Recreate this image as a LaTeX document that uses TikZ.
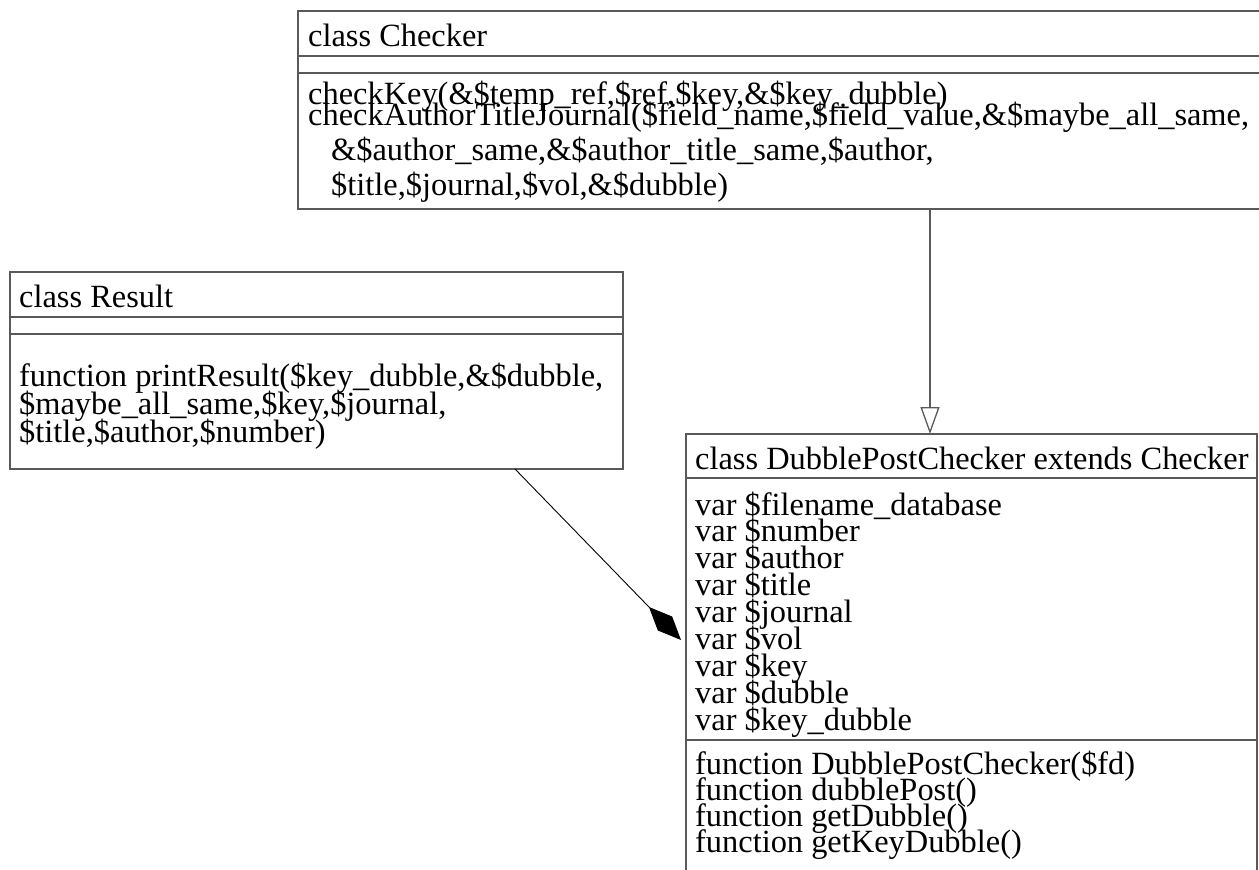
\documentclass[tikz,border=0pt]{standalone}
\usepackage{fontspec}
\setmainfont{Liberation Serif}
\usetikzlibrary{arrows.meta}
\tikzset{
  classbox/.style={draw=black!65, line width=1.3pt, anchor=north west, inner sep=0pt, outer sep=0pt},
  classrule/.style={draw=black!65, line width=1.3pt},
  member/.style={anchor=base west, inner sep=0pt, font=\fontsize{32.4}{27}\selectfont},
}
\begin{document}
\begin{tikzpicture}[x=1pt, y=-1pt]
\useasboundingbox (0,0) rectangle (1259,870);
\clip (0,0) rectangle (1259,870);
% class Checker
\node[classbox, minimum width=1000pt, minimum height=198pt] (checker) at (298,11){};
\draw[classrule] ([yshift=-45pt]checker.north west) -- ([yshift=-45pt]checker.north east);
\draw[classrule] ([yshift=-62pt]checker.north west) -- ([yshift=-62pt]checker.north east);
\node[member] (checkertitle) at (308,46){class Checker};
\node[member] (checkerop1) at (308,104){checkKey(\&\$temp\_ref,\$ref,\$key,\&\$key\_dubble)};
\node[member] (checkerop2) at (308,125){checkAuthorTitleJournal(\$field\_name,\$field\_value,\&\$maybe\_all\_same,};
\node[member] (checkerop3) at (331,160){\&\$author\_same,\&\$author\_title\_same,\$author,};
\node[member] (checkerop4) at (331,195){\$title,\$journal,\$vol,\&\$dubble)};
% class Result
\node[classbox, minimum width=613pt, minimum height=197pt] (result) at (10,272){};
\draw[classrule] ([yshift=-45pt]result.north west) -- ([yshift=-45pt]result.north east);
\draw[classrule] ([yshift=-62pt]result.north west) -- ([yshift=-62pt]result.north east);
\node[member] (resulttitle) at (19,307){class Result};
\node[member] (resultop1) at (19,386){function printResult(\$key\_dubble,\&\$dubble,};
\node[member] (resultop2) at (19,414){\$maybe\_all\_same,\$key,\$journal,};
\node[member] (resultop3) at (19,442){\$title,\$author,\$number)};
% class DubblePostChecker
\node[classbox, minimum width=571pt, minimum height=470pt] (dpc) at (686,434){};
\draw[classrule] ([yshift=-44pt]dpc.north west) -- ([yshift=-44pt]dpc.north east);
\draw[classrule] ([yshift=-306pt]dpc.north west) -- ([yshift=-306pt]dpc.north east);
\node[member] (dpctitle) at (695,469){class DubblePostChecker extends Checker};
\foreach \attr [count=\i from 0] in {{var \$filename\_database},{var \$number},{var \$author},
  {var \$title},{var \$journal},{var \$vol},{var \$key},{var \$dubble},{var \$key\_dubble}}
  \node[member] (dpcattr\i) at (695,515+26.9*\i){\attr};
\foreach \op [count=\i from 0] in {{function DubblePostChecker(\$fd)},{function dubblePost()},
  {function getDubble()},{function getKeyDubble()}}
  \node[member] (dpcop\i) at (695,774+26*\i){\op};
% relations
\coordinate (genfrom) at (930,209);
\coordinate (gento) at (930,434);
\draw[classrule, -{Triangle[open, length=27pt, width=19pt]}] (genfrom) -- (gento);
\coordinate (aggfrom) at (515,469);
\coordinate (aggto) at (681,640);
\draw[line width=0.9pt, -{Diamond[length=46pt, width=20pt]}] (aggfrom) -- (aggto);
\end{tikzpicture}
\end{document}
